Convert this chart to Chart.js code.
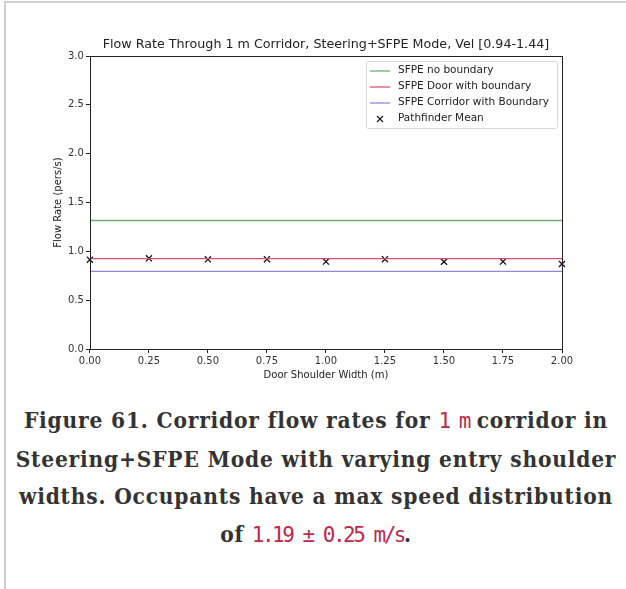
<!DOCTYPE html>
<html>
<head>
<meta charset="utf-8">
<script src="https://cdn.jsdelivr.net/npm/chart.js@4.4.0/dist/chart.umd.min.js"></script>
<style>
  html, body { margin: 0; padding: 0; background: #fff; }
  body { width: 626px; height: 589px; position: relative; overflow: hidden; }
  .frame {
    position: absolute; left: 4px; top: 1px; right: 0; bottom: 0;
    border-top: 2px solid #cfcfcf; border-left: 2px solid #cfcfcf;
  }
  #wrap { position: absolute; left: 32px; top: 28px; width: 572px; height: 366px; }
  .caption {
    position: absolute; left: 6px; right: 0; top: 402px; margin: 0;
    text-align: center; color: #333;
    font-family: "DejaVu Serif", serif; font-weight: bold; font-stretch: condensed;
    font-size: 22.5px; line-height: 37.5px; letter-spacing: 0.8px;
  }
  .caption code {
    font-family: "DejaVu Sans Mono", monospace; font-weight: normal;
    color: #c0284c; font-size: 21px; letter-spacing: -2.5px;
  }
</style>
</head>
<body>
<div class="frame"></div>
<div id="wrap"><canvas id="flow"></canvas></div>
<p class="caption">Figure 61. Corridor flow rates for <code>1 m</code> corridor in<br>Steering+SFPE Mode with varying entry shoulder<br>widths. Occupants have a max speed distribution<br>of <code>1.19 ± 0.25 m/s</code>.</p>
<script>
const CHART_TITLE = "Flow Rate Through 1 m Corridor, Steering+SFPE Mode, Vel [0.94-1.44]";

const SHOULDER_WIDTHS = [0, 0.25, 0.5, 0.75, 1.0, 1.25, 1.5, 1.75, 2.0];
const PATHFINDER_MEAN = [0.915, 0.928, 0.918, 0.92, 0.895, 0.92, 0.893, 0.895, 0.87];

const SFPE_LABELS = ["SFPE no boundary", "SFPE Door with boundary", "SFPE Corridor with Boundary"];
const SFPE_LEVELS = [1.315, 0.925, 0.795];
const SFPE_COLORS = ["#6cae6c", "#e04c70", "#9585dc"];

const X_TICKS = [0, 0.25, 0.5, 0.75, 1.0, 1.25, 1.5, 1.75, 2.0];
const Y_TICKS = [0, 0.5, 1.0, 1.5, 2.0, 2.5, 3.0];

const TICK_FONT = { family: "DejaVu Sans", size: 10 };

// matplotlib style box round the axes, title centred on the axes
const frameBox = {
  id: "frameBox",
  afterDatasetsDraw(chart) {
    const a = chart.chartArea;
    const ctx = chart.ctx;
    ctx.save();
    ctx.strokeStyle = "#222";
    ctx.lineWidth = 1;
    ctx.strokeRect(Math.round(a.left) + 0.5, Math.round(a.top) + 0.5,
      Math.round(a.right - a.left), Math.round(a.bottom - a.top));
    ctx.font = "12.7px 'DejaVu Sans'";
    ctx.fillStyle = "#222";
    ctx.textAlign = "center";
    ctx.textBaseline = "middle";
    ctx.fillText(CHART_TITLE, (a.left + a.right) / 2, a.top - 11);
    ctx.restore();
  },
};

// legend inside the upper right corner, one entry per row
const innerLegend = {
  id: "innerLegend",
  afterDraw(chart) {
    const a = chart.chartArea;
    const ctx = chart.ctx;
    const sets = chart.data.datasets;
    ctx.save();
    ctx.font = "10.5px 'DejaVu Sans'";
    let textW = 0;
    sets.forEach((d) => { textW = Math.max(textW, ctx.measureText(d.label).width); });
    const w = Math.round(textW + 40);
    const h = sets.length * 16 + 3;
    const x = Math.round(a.right - 5 - w);
    const y = Math.round(a.top + 5);
    ctx.fillStyle = "rgba(255,255,255,0.85)";
    ctx.strokeStyle = "#d8d8d8";
    ctx.lineWidth = 1;
    ctx.beginPath();
    ctx.roundRect(x + 0.5, y + 0.5, w, h, 2);
    ctx.fill();
    ctx.stroke();
    sets.forEach((d, i) => {
      const cy = y + 9 + i * 16;
      if (d.showLine === false) {
        ctx.strokeStyle = "#111";
        ctx.lineWidth = 1.1;
        const cx = x + 14, r = 3;
        ctx.beginPath();
        ctx.moveTo(cx - r, cy - r + 1); ctx.lineTo(cx + r, cy + r + 1);
        ctx.moveTo(cx + r, cy - r + 1); ctx.lineTo(cx - r, cy + r + 1);
        ctx.stroke();
      } else {
        ctx.strokeStyle = SFPE_COLORS[i];
        ctx.lineWidth = 1.3;
        ctx.beginPath();
        ctx.moveTo(x + 4, cy + 1);
        ctx.lineTo(x + 24, cy + 1);
        ctx.stroke();
      }
      ctx.fillStyle = "#222";
      ctx.textBaseline = "middle";
      ctx.fillText(d.label, x + 32, cy);
    });
    ctx.restore();
  },
};

function buildDatasets() {
  const sets = SFPE_LABELS.map((label, i) => ({
    label: label,
    data: [
      { x: X_TICKS[0], y: SFPE_LEVELS[i] },
      { x: X_TICKS[X_TICKS.length - 1], y: SFPE_LEVELS[i] },
    ],
    showLine: true,
    borderColor: SFPE_COLORS[i],
    borderWidth: 1.4,
    pointRadius: 0,
  }));
  sets.push({
    label: "Pathfinder Mean",
    data: SHOULDER_WIDTHS.map((w, i) => ({ x: w, y: PATHFINDER_MEAN[i] })),
    showLine: false,
    pointStyle: "crossRot",
    pointRadius: 4.3,
    borderColor: "#111",
    borderWidth: 1.3,
  });
  return sets;
}

function drawChart() {
  const ctx = document.getElementById("flow");
  new Chart(ctx, {
    type: "scatter",
    data: { datasets: buildDatasets() },
    plugins: [frameBox, innerLegend],
    options: {
      responsive: true,
      maintainAspectRatio: false,
      animation: false,
      clip: false,
      layout: { padding: { left: 16, right: 42, top: 28, bottom: 9 } },
      plugins: {
        legend: { display: false },
        tooltip: { enabled: false },
        title: { display: false },
      },
      scales: {
        x: {
          type: "linear",
          min: 0,
          max: 2,
          afterBuildTicks: (s) => { s.ticks = X_TICKS.map((v) => ({ value: v })); },
          ticks: {
            font: TICK_FONT,
            color: "#333",
            padding: 2,
            maxRotation: 0,
            callback: (v) => Number(v).toFixed(2),
          },
          grid: { display: true, drawOnChartArea: false, drawTicks: true, tickLength: 4, color: "#222" },
          border: { display: false },
          title: { display: true, text: "Door Shoulder Width (m)", font: TICK_FONT, color: "#222", padding: { top: 0 } },
        },
        y: {
          min: 0,
          max: 3,
          afterBuildTicks: (s) => { s.ticks = Y_TICKS.map((v) => ({ value: v })); },
          ticks: {
            font: TICK_FONT,
            color: "#333",
            padding: 2,
            callback: (v) => Number(v).toFixed(1),
          },
          grid: { display: true, drawOnChartArea: false, drawTicks: true, tickLength: 4, color: "#222" },
          border: { display: false },
          title: { display: true, text: "Flow Rate (pers/s)", font: TICK_FONT, color: "#222", padding: { bottom: 2 } },
        },
      },
    },
  });
}

drawChart();
</script>
</body>
</html>
